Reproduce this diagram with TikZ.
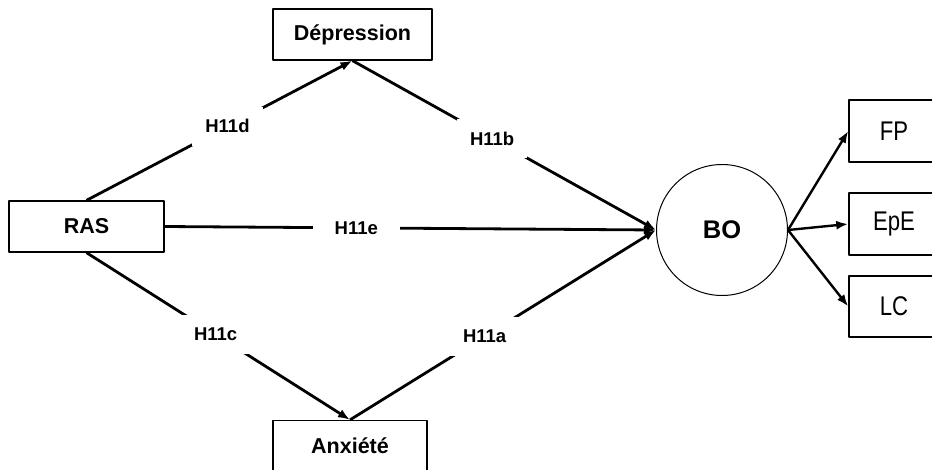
\documentclass[tikz,border=0pt]{standalone}
\usepackage{fontspec}
\setmainfont{Liberation Sans}
\newfontfamily\narrowsans[FakeStretch=0.82]{Liberation Sans}
\usetikzlibrary{arrows.meta}

\begin{document}
\begin{tikzpicture}[x=1pt,y=-1pt,>={Latex[length=12pt,width=9pt]},line join=round]
\path[fill=white] (0,0) rectangle (932,469);
\useasboundingbox (0,0) rectangle (932,469);
\tikzset{box/.style={draw=black,line width=1.3pt,minimum width=155pt,minimum height=51pt,inner sep=0pt,font=\bfseries\fontsize{21.5}{25}\selectfont},
  sidebox/.style={draw=black,line width=1.5pt,minimum width=90pt,minimum height=62pt,inner sep=0pt,font=\narrowsans\fontsize{27}{30}\selectfont},
  link/.style={draw=black,line width=2.8pt,->},
  hyp/.style={fill=white,inner sep=13pt,font=\bfseries\fontsize{18.5}{22}\selectfont}}
% boxes
\node[box] (ras) at (86.5,226.5) {RAS};
\node[box,minimum width=159pt] (dep) at (352.5,34.5) {Dépression};
\node[box,minimum width=154pt] (anx) at (350,446) {Anxiété};
\node[draw=black,line width=1pt,circle,minimum size=131pt,inner sep=0pt,font=\bfseries\fontsize{25.5}{30}\selectfont] (bo) at (722,230) {BO};
\node[sidebox] (fp) at (894,131) {FP};
\node[sidebox] (epe) at (894,224) {EpE};
\node[sidebox,minimum height=61pt] (lc) at (894,306.5) {LC};
% hypotheses
\draw[link] (ras.north) -- node[hyp,pos=0.53] (h11d) {H11d} (dep.south);
\draw[link] (dep.south) -- node[hyp,pos=0.46] (h11b) {H11b} (bo.west);
\draw[link] (ras.south) -- node[hyp,pos=0.49] (h11c) {H11c} (anx.north);
\draw[link] (anx.north) -- node[hyp,pos=0.44] (h11a) {H11a} (bo.west);
\draw[link] (ras.east) -- node[hyp,pos=0.39,inner xsep=22pt] (h11e) {H11e} (bo.west);
% dimensions
\draw[link,line width=2.4pt] (bo.east) -- (fp.west);
\draw[link,line width=2.4pt] (bo.east) -- (epe.west);
\draw[link,line width=2.4pt] (bo.east) -- (lc.west);
\end{tikzpicture}
\end{document}
